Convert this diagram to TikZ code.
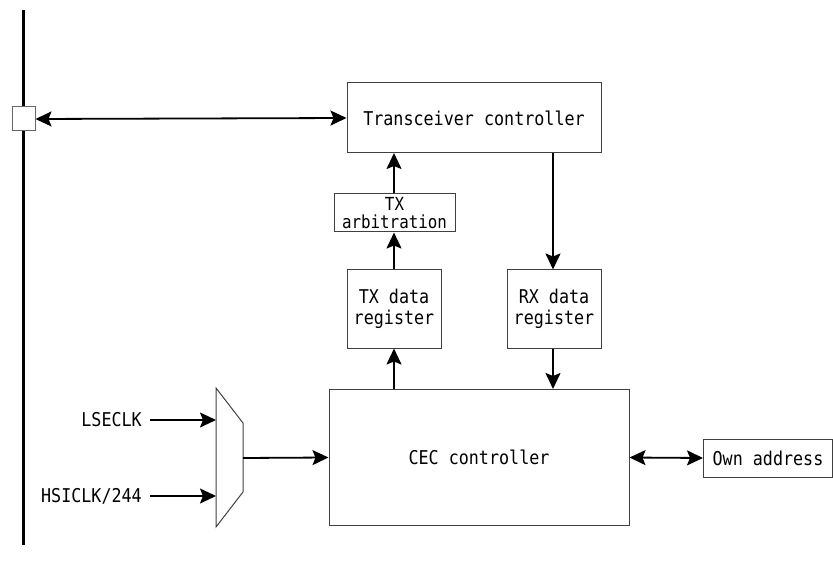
\documentclass[tikz,border=0pt]{standalone}
\usepackage{fontspec}
\setmainfont[FakeStretch=0.88]{DejaVu Sans Mono}
\usetikzlibrary{arrows.meta}
\begin{document}
\begin{tikzpicture}[x=1pt,y=-1pt,
  blk/.style={draw=black!75,line width=1pt,inner sep=0pt,font=\fontsize{19}{21}\selectfont,align=center},
  conn/.style={line width=1.8pt,-{Stealth[length=16pt,width=15pt,inset=3pt]}},
  dconn/.style={line width=1.8pt,{Stealth[length=16pt,width=15pt,inset=3pt]}-{Stealth[length=16pt,width=15pt,inset=3pt]}},
  lbl/.style={font=\fontsize{19}{21}\selectfont,inner sep=0pt}]
\useasboundingbox (0,0) rectangle (833,572);
% bus
\draw[line width=3pt] (23,10) -- (23,545);
\node[draw=black!60,fill=white,line width=1pt,minimum width=23pt,minimum height=24pt,inner sep=0pt] (pin) at (23.5,119) {};
% boxes
\node[blk,minimum width=254pt,minimum height=70pt] (tc) at (474,118) {Transceiver controller};
\node[blk,minimum width=121pt,minimum height=38pt,font=\fontsize{18}{17.5}\selectfont] (arb) at (394.5,213) {TX\\arbitration};
\node[blk,minimum width=94pt,minimum height=78pt] (txr) at (394,309) {TX data\\register};
\node[blk,minimum width=94pt,minimum height=78pt] (rxr) at (554,309) {RX data\\register};
\node[blk,minimum width=300pt,minimum height=136pt] (cec) at (479,457.5) {CEC controller};
\node[blk,minimum width=129pt,minimum height=38pt,anchor=west] (own) at (703,458) {Own address};
% mux
\draw[black!75,line width=1pt] (216,388) -- (243,423) -- (243,492) -- (216,527) -- cycle;
\coordinate (m1) at (216,420);
\coordinate (m2) at (216,496);
\coordinate (mo) at (243,458);
\node[lbl,anchor=east] (lse) at (142,420) {LSECLK};
\node[lbl,anchor=east] (hsi) at (142,496) {HSICLK/244};
% connectors
\draw[dconn] (pin.east) -- (tc.west);
\draw[conn] (arb.north -| 394,0) -- (394,153);
\draw[conn] (txr.north) -- (arb.south -| txr.north);
\draw[conn] (cec.north -| txr.south) -- (txr.south);
\draw[conn] (553,153) -- (rxr.north -| 553,0);
\draw[conn] (rxr.south -| 553,0) -- (cec.north -| 553,0);
\draw[conn] (lse.east) ++(8,0) -- (m1);
\draw[conn] (hsi.east) ++(8,0) -- (m2);
\draw[conn] (mo) -- (cec.west);
\draw[dconn] (cec.east) -- (own.west);
\end{tikzpicture}
\end{document}
